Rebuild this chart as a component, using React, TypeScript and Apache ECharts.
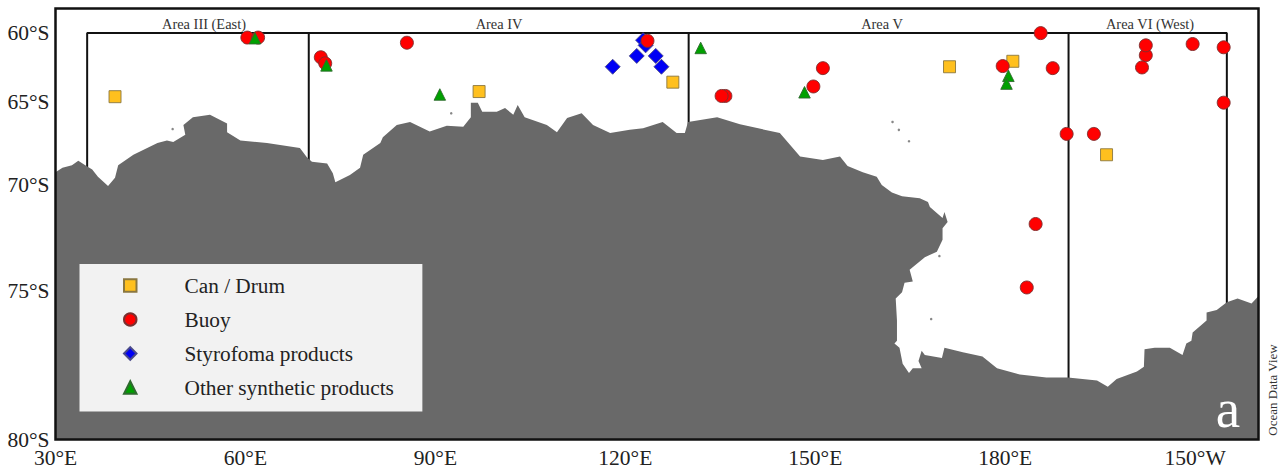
import React, { useEffect, useRef } from "react";
import * as echarts from "echarts";

const FONT = '"Liberation Serif", serif';

const xTickValues = [30, 60, 90, 120, 150, 180, 210];
const xTickLabels = ["30°E", "60°E", "90°E", "120°E", "150°E", "180°E", "150°W"];
const yTickLats = [60, 65, 70, 75, 80];
const yTickLabels = ["60°S", "65°S", "70°S", "75°S", "80°S"];

const canLon = [39.4, 96.9, 127.5, 171.2, 181.2, 196.0];
const canLat = [64.65, 64.3, 63.65, 62.55, 62.15, 68.3];

const buoyLon = [60.3, 62.0, 71.9, 72.6, 85.5, 123.5, 135.8, 135.2, 149.7, 151.2, 179.6, 185.6, 187.5, 189.7, 194.0, 202.2, 202.2, 201.6, 209.6, 214.5, 214.5, 184.8, 183.4];
const buoyLat = [60.35, 60.35, 61.85, 62.3, 60.75, 60.6, 64.6, 64.6, 63.95, 62.65, 62.5, 60.0, 62.65, 67.05, 67.05, 61.7, 60.95, 62.6, 60.85, 61.1, 65.05, 72.0, 74.85];

const styroLon = [122.8, 123.2, 121.8, 124.8, 125.7, 118.0];
const styroLat = [60.55, 60.95, 61.75, 61.75, 62.55, 62.55];

const otherLon = [61.5, 72.8, 90.7, 131.9, 148.3, 180.5, 180.2];
const otherLat = [60.4, 62.45, 64.5, 61.15, 64.35, 63.2, 63.75];

const boundaryLon = [35, 35, 215, 215];
const boundaryLat = [69, 60, 60, 76];
const dividerLons = [70, 130, 190];
const dividerEnds = [68.6, 66.6, 78.3];

const coastLon = [30, 31.1, 32.6, 33.6, 34.7, 35.8, 36.7, 38.3, 39.4, 39.9, 42.3, 46.1, 47.6, 48.6, 50.5, 50.2, 51.7, 54.4, 57.1, 57.1, 59.2, 63.4, 68.6, 69.7, 70.5, 72.9, 73.8, 74.2, 76.5, 78.1, 78.6, 81.3, 81.7, 83.9, 86.0, 89.1, 91.8, 94.4, 95.6, 95.6, 96.7, 97.4, 99.7, 101.0, 102.3, 103.0, 104.1, 107.6, 109.2, 110.8, 113.1, 114.9, 117.6, 120.7, 122.8, 125.9, 128.1, 129.4, 129.9, 134.5, 138.1, 144.4, 147.6, 151.2, 153.9, 155.1, 157.5, 159.7, 160.5, 162.1, 163.7, 166.5, 167.8, 168.1, 170.1, 170.4, 170.9, 170.1, 170.1, 169.2, 167.3, 164.9, 165.4, 164.1, 163.7, 162.7, 162.9, 162.9, 162.5, 163.3, 163.8, 164.8, 165.4, 166.8, 166.3, 166.8, 167.3, 170, 170.4, 173.3, 176.4, 178.7, 182.3, 186.5, 189.9, 194.5, 196.2, 197.6, 200.8, 201.9, 202.0, 203.6, 206, 208, 208.6, 209.4, 209.6, 211.8, 211.8, 213.4, 215, 216.7, 218.9, 220, 220, 30];
const coastLat = [69.3, 69.05, 68.9, 68.65, 68.9, 69.15, 69.55, 70.05, 69.6, 68.9, 68.3, 67.6, 67.45, 67.55, 67.1, 66.5, 66.0, 65.85, 66.4, 66.95, 67.45, 67.6, 67.9, 68.45, 68.7, 68.8, 69.35, 69.85, 69.45, 69.05, 68.3, 67.6, 67.25, 66.5, 66.3, 66.9, 66.55, 66.6, 66.0, 65.05, 65.05, 65.65, 65.65, 65.4, 65.85, 65.2, 66.0, 66.5, 66.95, 66.05, 65.75, 66.5, 67.0, 66.8, 66.7, 66.3, 67.0, 67.0, 66.3, 66.0, 66.45, 67.0, 68.4, 68.6, 68.4, 68.95, 69.3, 69.55, 70.0, 70.4, 70.6, 70.7, 70.9, 71.15, 71.7, 71.4, 71.9, 72.2, 72.75, 73.3, 73.55, 74.1, 74.6, 74.65, 75.05, 75.3, 76.15, 76.9, 77.0, 77.15, 77.7, 78.0, 77.85, 77.85, 77.6, 77.25, 77.4, 77.5, 77.15, 77.3, 77.45, 77.85, 78.05, 78.15, 78.15, 78.25, 78.45, 78.2, 77.95, 77.8, 77.2, 77.15, 77.15, 77.4, 77.0, 76.9, 76.6, 76.15, 75.85, 75.75, 75.45, 75.3, 75.5, 75.2, 80, 80];

const isletLon = [48.5, 92.5, 162.2, 163.2, 164.8, 169.6, 168.3];
const isletLat = [66.75, 65.75, 66.3, 66.8, 67.5, 73.5, 76.1];

const mercator = (lat: number) => Math.log(Math.tan(((45 + lat / 2) * Math.PI) / 180));
const zip = (lons: number[], lats: number[]) => lons.map((lon, i) => [lon, mercator(lats[i])]);

const scatter = (name: string, lons: number[], lats: number[], symbol: string, size: number, color: string, border: string) => ({
  name,
  type: "scatter",
  symbol,
  symbolSize: size,
  data: zip(lons, lats),
  z: 3,
  clip: false,
  itemStyle: { color, borderColor: border, borderWidth: 0.9, opacity: 1 },
});

const line = (data: number[][]) => ({
  type: "line",
  data,
  symbol: "none",
  silent: true,
  z: 1,
  lineStyle: { color: "#111", width: 2 },
});

const areaLabel = (text: string, x: number) => ({
  type: "text",
  x,
  y: 24,
  z: 5,
  silent: true,
  style: { text, font: `14.4px ${FONT}`, fill: "#333", textAlign: "center", textVerticalAlign: "middle" },
});

export default function App() {
  const ref = useRef<HTMLDivElement>(null);
  useEffect(() => {
    document.body.style.margin = "0";
    const chart = echarts.init(ref.current!, undefined, { renderer: "svg" });
    const land = zip(coastLon, coastLat);
    chart.setOption({
      animation: false,
      backgroundColor: "#fff",
      grid: { left: 55.5, top: 8.5, right: 26.5, bottom: 33.5, show: false },
      xAxis: {
        type: "value",
        min: 30,
        max: 220,
        axisLine: { show: false },
        axisTick: { show: false },
        splitLine: { show: false },
        axisLabel: {
          customValues: xTickValues,
          formatter: (v: number) => xTickLabels[xTickValues.indexOf(v)],
          fontFamily: FONT,
          fontSize: 21.5,
          color: "#222",
          margin: 7,
        },
      },
      yAxis: {
        type: "value",
        inverse: true,
        min: mercator(58),
        max: mercator(80),
        axisLine: { show: false },
        axisTick: { show: false },
        splitLine: { show: false },
        axisLabel: {
          customValues: yTickLats.map(mercator),
          formatter: (v: number) => yTickLabels[yTickLats.map(mercator).indexOf(v)],
          fontFamily: FONT,
          fontSize: 21.5,
          color: "#222",
          margin: 6,
        },
      },
      legend: {
        left: 79.5,
        top: 264,
        orient: "vertical",
        backgroundColor: "#f2f2f2",
        padding: [11, 28.5, 13.5, 43.5],
        itemWidth: 12.5,
        itemHeight: 12.5,
        itemGap: 13,
        selectedMode: false,
        z: 6,
        data: ["Can / Drum", "Buoy", "Styrofoma products", "Other synthetic products"],
        textStyle: {
          fontFamily: FONT,
          fontSize: 21.3,
          color: "#222",
          padding: [0, 0, 0, 43],
        },
      },
      series: [
        line(zip(boundaryLon, boundaryLat)),
        ...dividerLons.map((lon, i) => line(zip([lon, lon], [60, dividerEnds[i]]))),
        {
          type: "custom",
          silent: true,
          z: 2,
          data: [0],
          renderItem: (_: unknown, api: any) => ({
            type: "polygon",
            shape: { points: land.map((p) => api.coord(p)) },
            style: { fill: "#696969" },
          }),
        },
        {
          type: "scatter",
          silent: true,
          z: 2,
          symbolSize: 2.5,
          data: zip(isletLon, isletLat),
          itemStyle: { color: "#696969" },
        },
        scatter("Can / Drum", canLon, canLat, "rect", 12, "#FFC01E", "#8a7740"),
        scatter("Styrofoma products", styroLon, styroLat, "diamond", 15, "#0000F5", "#4a4a8a"),
        scatter("Buoy", buoyLon, buoyLat, "circle", 13, "#FF0000", "#7a3030"),
        scatter("Other synthetic products", otherLon, otherLat, "triangle", 11.5, "#00A000", "#2f6a2f"),
      ],
      graphic: [
        { type: "rect", z: 5, silent: true, shape: { x: 55.5, y: 8.5, width: 1203, height: 431 }, style: { fill: "none", stroke: "#111", lineWidth: 2.5 } },
        areaLabel("Area III (East)", 204),
        areaLabel("Area IV", 499),
        areaLabel("Area V", 882),
        areaLabel("Area VI (West)", 1150),
        { type: "text", x: 1228, y: 408, z: 5, silent: true, style: { text: "a", font: `55px ${FONT}`, fill: "#fff", textAlign: "center", textVerticalAlign: "middle" } },
        { type: "text", x: 1272, y: 390, rotation: Math.PI / 2, z: 5, silent: true, style: { text: "Ocean Data View", font: `13px ${FONT}`, fill: "#333", textAlign: "center", textVerticalAlign: "middle" } },
      ],
    });
    return () => chart.dispose();
  }, []);
  return <div ref={ref} style={{ width: 1285, height: 473 }} />;
}
